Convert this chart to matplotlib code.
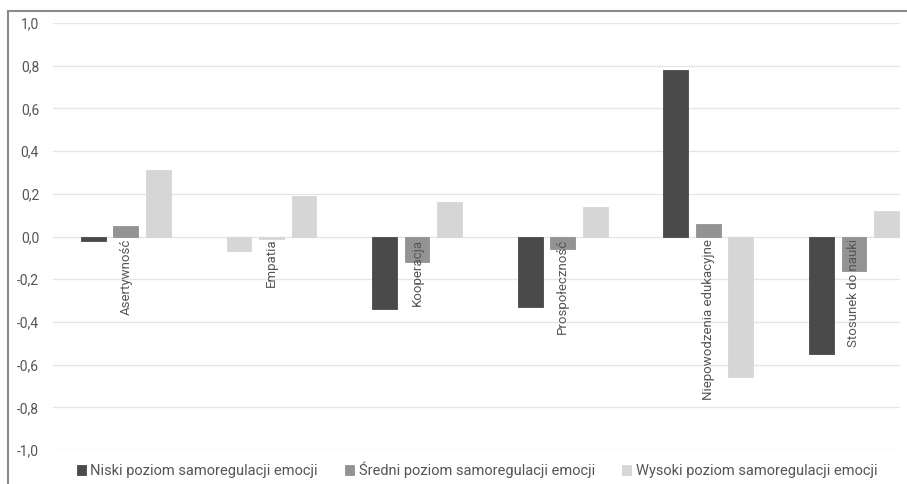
import numpy as np
import matplotlib.pyplot as plt
from matplotlib.patches import Rectangle
from matplotlib.ticker import FuncFormatter

categories = ["Asertywność", "Empatia", "Kooperacja", "Prospołeczność",
              "Niepowodzenia edukacyjne", "Stosunek do nauki"]
series_names = ["Niski poziom samoregulacji emocji",
                "Średni poziom samoregulacji emocji",
                "Wysoki poziom samoregulacji emocji"]
niski = [-0.02, -0.07, -0.34, -0.33, 0.78, -0.55]
sredni = [0.05, -0.01, -0.12, -0.06, 0.06, -0.16]
wysoki = [0.31, 0.19, 0.16, 0.14, -0.66, 0.12]
y_ticks = [-1.0, -0.8, -0.6, -0.4, -0.2, 0.0, 0.2, 0.4, 0.6, 0.8, 1.0]

colors = ["#4a4a4a", "#939393", "#d6d6d6"]
# in the source picture the first two Empatia bars are drawn in light grey
bar_colors = [
    [colors[0], colors[2], colors[0], colors[0], colors[0], colors[0]],
    [colors[1], colors[2], colors[1], colors[1], colors[1], colors[1]],
    [colors[2]] * 6,
]

plt.rcParams["font.family"] = ["Roboto", "DejaVu Sans"]

dpi = 100
fig = plt.figure(figsize=(907 / dpi, 484 / dpi), dpi=dpi)
ax = fig.add_axes([53 / 907, 1 - 450 / 484, (900 - 53) / 907, (450 - 23) / 484])

x = np.arange(len(categories))
w = 0.17
step = 0.223
for k, vals in enumerate([niski, sredni, wysoki]):
    ax.bar(x + (k - 1) * step, vals, width=w, color=bar_colors[k],
           edgecolor=bar_colors[k], lw=0.6,
           label=series_names[k], zorder=2)

ax.set_ylim(-1.0, 1.0)
ax.set_xlim(-0.5, (900 - 126) / 145.6)
ax.set_yticks(y_ticks)
ax.yaxis.set_major_formatter(FuncFormatter(lambda v, p: f"{v:.1f}".replace(".", ",").replace("-0,0", "0,0")))
ax.tick_params(axis="y", length=0, pad=10, labelsize=10, labelcolor="#555555")
ax.set_xticks([])
ax.grid(axis="y", color="#e6e6e6", lw=1, zorder=0)
for s in ax.spines.values():
    s.set_visible(False)

for i, name in enumerate(categories):
    ax.text(i, -0.01, name, rotation=90, ha="center", va="top",
            fontsize=9.5, color="#555555", zorder=3)

leg = fig.legend(loc="center", bbox_to_anchor=(0.526, 1 - 470 / 484), ncol=3,
                 frameon=False, fontsize=10.5, handlelength=0.6, handleheight=0.6,
                 handletextpad=0.3, columnspacing=1.9, labelcolor="#555555")
for h, c in zip(leg.legend_handles, colors):
    h.set_facecolor(c)
    h.set_edgecolor(c)

# outer border of the original image
fig.add_artist(Rectangle((8 / 907, -0.1), 1.2, 1 - 11 / 484 + 0.1,
                         transform=fig.transFigure, fill=False,
                         edgecolor="#8a8a8a", lw=1.5))

fig.savefig("out.png", dpi=dpi)
plt.close()
